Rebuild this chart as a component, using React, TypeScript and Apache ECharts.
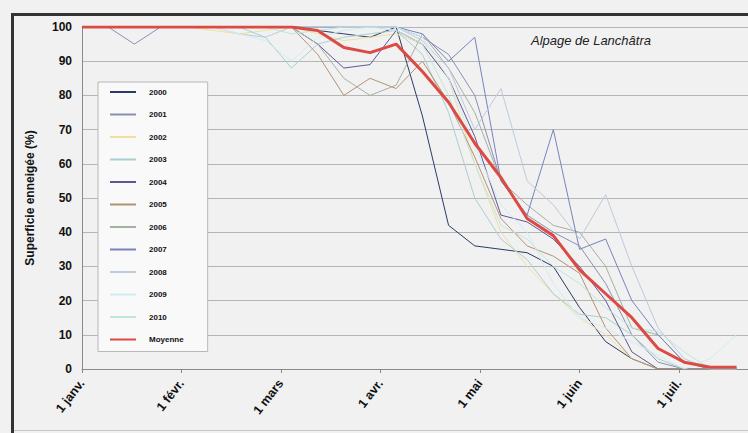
import React, { useEffect, useRef } from "react";
import * as echarts from "echarts";

// sample dates, in days after 1 January
const days = [0, 8, 16, 24, 32, 40, 48, 56, 64, 72, 80, 88, 96, 104, 112, 120, 128, 136, 144, 152, 160, 168, 176, 184, 192, 200];

const monthLabels = ["1 janv.", "1 févr.", "1 mars", "1 avr.", "1 mai", "1 juin", "1 juil."];

const y2000 = [100, 100, 100, 100, 100, 100, 100, 100, 100, 99, 98, 97, 100, 74, 42, 36, 35, 34, 30, 18, 8, 3, 0, 0, 0, 0];
const y2001 = [100, 100, 95, 100, 100, 100, 100, 100, 100, 100, 100, 100, 100, 97, 92, 80, 55, 45, 40, 36, 25, 10, 2, 0, 0, 0];
const y2002 = [100, 100, 100, 100, 100, 99, 98, 99, 100, 98, 96, 97, 98, 95, 85, 60, 40, 30, 22, 15, 10, 3, 0, 0, 0, 0];
const y2003 = [100, 100, 100, 100, 100, 100, 100, 97, 88, 95, 97, 98, 99, 92, 75, 50, 38, 32, 22, 16, 15, 10, 3, 0, 0, 0];
const y2004 = [100, 100, 100, 100, 100, 100, 100, 100, 100, 95, 88, 89, 99, 95, 85, 68, 45, 43, 38, 30, 20, 5, 0, 0, 0, 0];
const y2005 = [100, 100, 100, 100, 100, 100, 100, 100, 100, 92, 80, 85, 82, 90, 78, 62, 44, 36, 33, 28, 12, 3, 0, 0, 0, 0];
const y2006 = [100, 100, 100, 100, 100, 100, 100, 100, 100, 95, 85, 80, 83, 98, 88, 75, 55, 48, 42, 40, 30, 12, 10, 2, 0, 0];
const y2007 = [100, 100, 100, 100, 100, 100, 100, 100, 100, 100, 100, 100, 100, 98, 90, 97, 55, 45, 70, 35, 38, 20, 10, 2, 0, 0];
const y2008 = [100, 100, 100, 100, 100, 100, 98, 97, 100, 100, 100, 100, 100, 96, 88, 70, 82, 55, 48, 38, 51, 30, 12, 3, 0, 0];
const y2009 = [100, 100, 100, 100, 100, 100, 98, 96, 90, 97, 99, 100, 100, 97, 85, 65, 48, 40, 25, 15, 12, 8, 4, 0, 3, 10];
const y2010 = [100, 100, 100, 100, 100, 100, 100, 100, 98, 99, 100, 100, 99, 95, 80, 60, 42, 38, 30, 25, 18, 12, 11, 5, 0, 0];
const yMoyenne = [100, 100, 100, 100, 100, 100, 100, 100, 100, 99, 94, 92.5, 95, 87, 78, 66, 56, 44, 39, 29, 22, 15, 6, 2, 0.5, 0.5];

const seriesDefs = [
  { name: "2000", data: y2000, color: "#2b3a67", width: 1 },
  { name: "2001", data: y2001, color: "#8890b0", width: 1 },
  { name: "2002", data: y2002, color: "#eee0a0", width: 1 },
  { name: "2003", data: y2003, color: "#a9cfd0", width: 1 },
  { name: "2004", data: y2004, color: "#5e5596", width: 1 },
  { name: "2005", data: y2005, color: "#b39272", width: 1 },
  { name: "2006", data: y2006, color: "#a4b0a4", width: 1 },
  { name: "2007", data: y2007, color: "#7683bd", width: 1 },
  { name: "2008", data: y2008, color: "#bccadb", width: 1 },
  { name: "2009", data: y2009, color: "#d0ecf2", width: 1 },
  { name: "2010", data: y2010, color: "#bfe6dc", width: 1 },
  { name: "Moyenne", data: yMoyenne, color: "#dc4a44", width: 3 },
];

const DAYS_PER_MONTH = 30.4;

export default function App() {
  const ref = useRef<HTMLDivElement>(null);
  useEffect(() => {
    document.body.style.margin = "0";
    const chart = echarts.init(ref.current!, null, { renderer: "svg" });
    chart.setOption({
      animation: false,
      backgroundColor: "#f1f1f1",
      grid: { left: 82, top: 27, right: 0, bottom: 64, containLabel: false },
      legend: {
        orient: "vertical",
        left: 98,
        top: 82,
        padding: [6, 24, 8, 11],
        backgroundColor: "#f9f9f9",
        borderColor: "#b8b8b8",
        borderWidth: 1,
        itemWidth: 26,
        itemHeight: 10,
        itemGap: 14.5,
        itemStyle: { opacity: 0 },
        textStyle: {
          fontSize: 8,
          fontWeight: "bold",
          color: "#111",
          fontFamily: "Liberation Sans",
          padding: [0, 0, 0, 8],
        },
        data: seriesDefs.map((s) => s.name),
      },
      xAxis: {
        type: "value",
        min: 0,
        max: 666 / 99.5,
        interval: 1,
        axisLine: { show: true, lineStyle: { color: "#8a8a8a", width: 1 } },
        axisTick: { show: true, length: 4, lineStyle: { color: "#8a8a8a" } },
        splitLine: { show: false },
        axisLabel: {
          rotate: 52,
          margin: 12,
          fontSize: 12.5,
          fontWeight: "bold",
          color: "#111",
          fontFamily: "Liberation Sans",
          showMaxLabel: false,
          formatter: (v: number) => {
            const i = Math.round(v);
            return Math.abs(v - i) < 1e-6 && monthLabels[i] ? monthLabels[i] : "";
          },
        },
      },
      yAxis: {
        type: "value",
        min: 0,
        max: 100,
        interval: 10,
        name: "Superficie enneigée (%)",
        nameLocation: "middle",
        nameGap: 46,
        nameTextStyle: { fontSize: 12, fontWeight: "bold", color: "#111", fontFamily: "Liberation Sans" },
        axisLine: { show: true, lineStyle: { color: "#8a8a8a" } },
        axisTick: { show: false },
        splitLine: { show: true, lineStyle: { color: "#b5b5b5", width: 1 } },
        axisLabel: {
          margin: 10,
          fontSize: 12,
          fontWeight: "bold",
          color: "#111",
          fontFamily: "Liberation Sans",
        },
      },
      series: seriesDefs.map((s) => ({
        name: s.name,
        type: "line",
        symbol: "none",
        color: s.color,
        lineStyle: { color: s.color, width: s.width },
        z: s.name === "Moyenne" ? 5 : 2,
        data: days.map((d, i) => [d / DAYS_PER_MONTH, s.data[i]]),
      })),
      graphic: [
        { type: "rect", left: 11, top: 13, shape: { width: 748, height: 3 }, style: { fill: "#333" }, z: 100 },
        { type: "rect", left: 11, top: 13, shape: { width: 3, height: 430 }, style: { fill: "#333" }, z: 100 },
        { type: "rect", left: 14, top: 430, shape: { width: 734, height: 1 }, style: { fill: "#c8c8c8" }, z: 100 },
        {
          type: "text",
          left: 531,
          top: 34,
          style: {
            text: "Alpage de Lanchâtra",
            fontSize: 13,
            fontStyle: "italic",
            fill: "#222",
            fontFamily: "Liberation Sans",
          },
          z: 100,
        },
      ],
    });
    return () => chart.dispose();
  }, []);
  return <div ref={ref} style={{ width: 748, height: 433 }} />;
}
